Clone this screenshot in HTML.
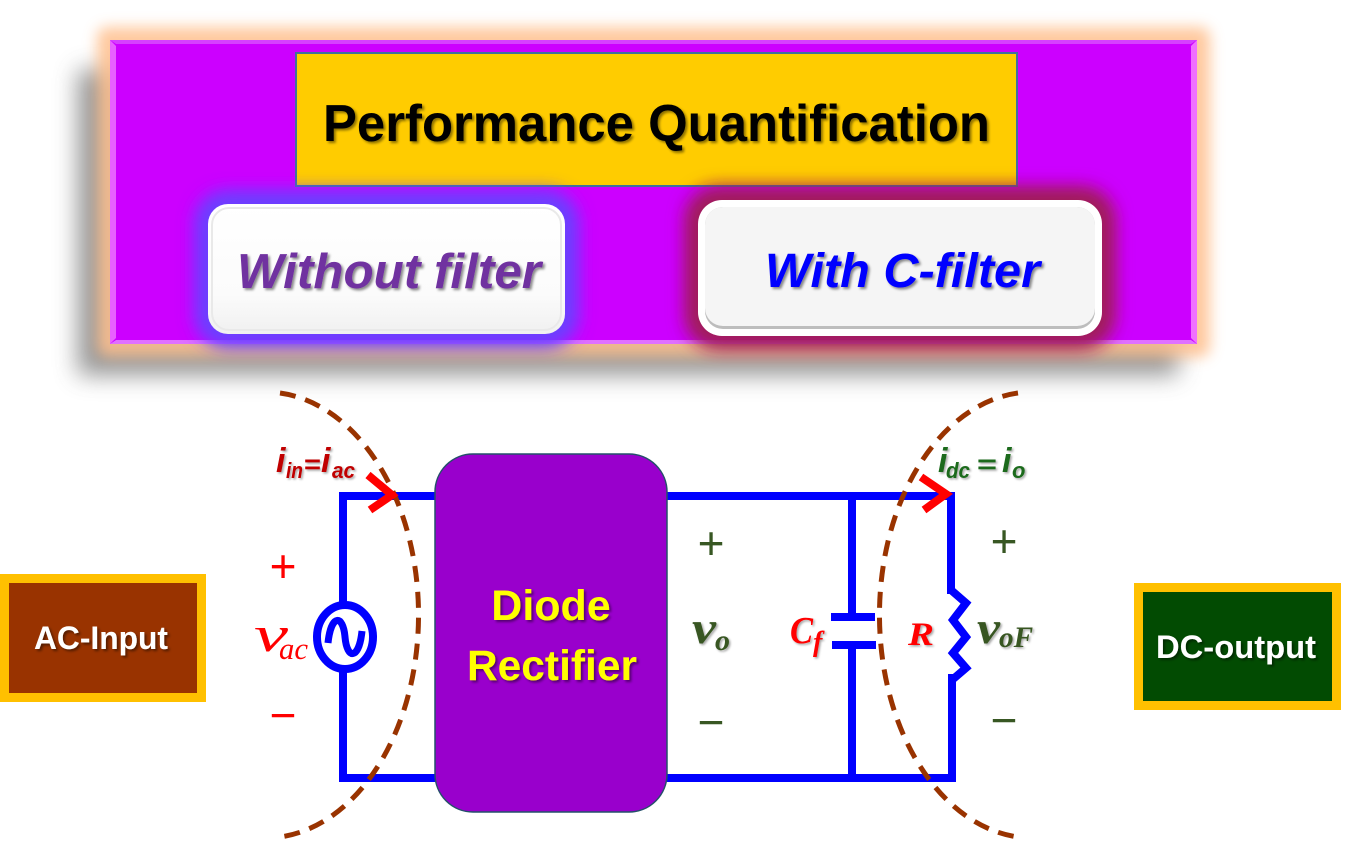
<!DOCTYPE html>
<html><head><meta charset="utf-8"><style>
html,body{margin:0;padding:0;background:#fff;}
svg{display:block;}
</style></head><body>
<svg width="1345" height="843" viewBox="0 0 1345 843" xmlns="http://www.w3.org/2000/svg">
<defs>
<filter id="b12" x="-20%" y="-50%" width="140%" height="200%"><feGaussianBlur stdDeviation="12"/></filter>
<filter id="b7" x="-20%" y="-50%" width="140%" height="200%"><feGaussianBlur stdDeviation="7"/></filter>
<filter id="b9" x="-30%" y="-50%" width="160%" height="200%"><feGaussianBlur stdDeviation="9"/></filter>
<filter id="ts" x="-10%" y="-30%" width="120%" height="160%"><feDropShadow dx="2" dy="2" stdDeviation="1.2" flood-color="#000" flood-opacity="0.45"/></filter>
<filter id="ts2" x="-10%" y="-30%" width="120%" height="160%"><feDropShadow dx="1.5" dy="1.5" stdDeviation="1" flood-color="#000" flood-opacity="0.35"/></filter>
<linearGradient id="g1" x1="0" y1="0" x2="0" y2="1"><stop offset="0" stop-color="#ffffff"/><stop offset="0.7" stop-color="#fbfbfb"/><stop offset="1" stop-color="#f0f0f0"/></linearGradient>
</defs>

<!-- top panel shadow & glow -->
<rect x="78" y="70" width="1100" height="305" fill="#7a7a7a" opacity="0.8" filter="url(#b12)"/>
<rect x="97" y="27" width="1113" height="330" rx="10" fill="#FFC08E" opacity="0.85" filter="url(#b7)"/>
<rect x="110" y="40" width="1087" height="304" fill="#CC00FF"/>
<polygon points="110,40 116,46 116,338 110,344" fill="#E860FF"/>
<polygon points="1197,40 1191,46 1191,338 1197,344" fill="#F070FF"/>
<polygon points="110,40 1197,40 1191,44 116,44" fill="#D640FF"/>
<polygon points="110,344 1197,344 1191,340 116,340" fill="#E070FF"/>

<!-- title box -->
<rect x="296" y="53" width="721" height="133" fill="#FFCC00" stroke="#41719C" stroke-width="2"/>
<text x="323" y="141" font-family="Liberation Sans, sans-serif" font-weight="bold" font-size="52" fill="#000" textLength="667" lengthAdjust="spacingAndGlyphs" filter="url(#ts)">Performance Quantification</text>

<!-- Without filter button -->
<rect x="196" y="192" width="381" height="154" rx="30" fill="#6A40FF" filter="url(#b9)"/>
<rect x="200" y="196" width="373" height="146" rx="28" fill="#6A40FF" opacity="0.7" filter="url(#b9)"/>
<rect x="208" y="204" width="357" height="130" rx="20" fill="url(#g1)"/>
<rect x="212" y="208" width="349" height="122" rx="17" fill="none" stroke="#e9e9e9" stroke-width="2"/>
<text x="237" y="288" font-family="Liberation Sans, sans-serif" font-weight="bold" font-style="italic" font-size="49" fill="#7030A0" textLength="304" lengthAdjust="spacingAndGlyphs" filter="url(#ts)">Without filter</text>

<!-- With C-filter button -->
<rect x="686" y="188" width="428" height="160" rx="32" fill="#A01E5A" filter="url(#b9)"/>
<rect x="690" y="192" width="420" height="152" rx="30" fill="#A01E5A" opacity="0.7" filter="url(#b9)"/>
<rect x="698" y="200" width="404" height="136" rx="24" fill="#ffffff"/>
<rect x="705" y="207" width="390" height="122" rx="18" fill="#bdbdbd"/>
<rect x="705" y="207" width="390" height="119" rx="18" fill="#F5F5F5"/>
<text x="765" y="287" font-family="Liberation Sans, sans-serif" font-weight="bold" font-style="italic" font-size="48" fill="#0000FF" textLength="275" lengthAdjust="spacingAndGlyphs" filter="url(#ts)">With C-filter</text>

<!-- AC input box -->
<rect x="4.5" y="578.5" width="197" height="119" fill="#993300" stroke="#FFC000" stroke-width="9"/>
<text x="34" y="649" font-family="Liberation Sans, sans-serif" font-weight="bold" font-size="32" fill="#fff" textLength="134" lengthAdjust="spacingAndGlyphs" filter="url(#ts)">AC-Input</text>

<!-- DC output box -->
<rect x="1138.5" y="587.5" width="198" height="118" fill="#024B02" stroke="#FFC000" stroke-width="9"/>
<text x="1156" y="658" font-family="Liberation Sans, sans-serif" font-weight="bold" font-size="32" fill="#fff" textLength="160" lengthAdjust="spacingAndGlyphs" filter="url(#ts)">DC-output</text>

<!-- circuit wires -->
<g stroke="#0000FF" stroke-width="8" fill="none" stroke-linecap="square">
<line x1="343" y1="496" x2="436" y2="496"/>
<line x1="343" y1="778" x2="436" y2="778"/>
<line x1="343" y1="496" x2="343" y2="605"/>
<line x1="343" y1="669" x2="343" y2="778"/>
<line x1="666" y1="496" x2="951" y2="496"/>
<line x1="666" y1="778" x2="951" y2="778"/>
<line x1="951" y1="496" x2="951" y2="590"/>
<line x1="952" y1="678" x2="952" y2="778"/>
<line x1="852" y1="496" x2="852" y2="617"/>
<line x1="852" y1="645" x2="852" y2="778"/>
</g>
<g stroke="#0000FF" stroke-width="8" fill="none">
<line x1="831" y1="617" x2="875" y2="617"/>
<line x1="832" y1="645" x2="876" y2="645"/>
<polyline points="951,590 966,603 953,620 966,637 953,653 966,668 952,680" stroke-linejoin="miter"/>
<ellipse cx="345" cy="637" rx="28" ry="32"/>
<path d="M328 643 C331 614, 343 614, 345 637 C347 660, 359 660, 362 631" stroke-width="7"/>
</g>

<!-- diode rectifier -->
<rect x="435" y="454" width="232" height="358" rx="38" fill="#9900CC" stroke="#24506A" stroke-width="1.5"/>
<text x="551" y="620" text-anchor="middle" font-family="Liberation Sans, sans-serif" font-weight="bold" font-size="43" fill="#FFFF00" filter="url(#ts)">Diode</text>
<text x="552" y="680" text-anchor="middle" font-family="Liberation Sans, sans-serif" font-weight="bold" font-size="43" fill="#FFFF00" textLength="170" lengthAdjust="spacingAndGlyphs" filter="url(#ts)">Rectifier</text>

<!-- dashed boundary curves -->
<g stroke="#993300" stroke-width="5" fill="none" stroke-dasharray="16 10">
<path d="M280 393 A153 223 0 0 1 280 837"/>
<path d="M1018 393 A153 223 0 0 0 1018 837"/>
</g>

<!-- current arrows -->
<g stroke="#FF0000" stroke-width="8" fill="none" stroke-linecap="butt" stroke-linejoin="miter">
<polyline points="368,475 392,495 370,510"/>
<polyline points="921,477 946,494 924,510"/>
</g>

<!-- labels left -->
<g font-family="Liberation Sans, sans-serif" font-weight="bold" font-style="italic" fill="#C00000" filter="url(#ts2)">
<text x="276" y="472" font-size="34">i</text>
<text x="286" y="478" font-size="22" textLength="17" lengthAdjust="spacingAndGlyphs">in</text>
<text x="304" y="473" font-size="26" font-style="normal" textLength="17" lengthAdjust="spacingAndGlyphs">=</text>
<text x="321" y="472" font-size="34">i</text>
<text x="332" y="478" font-size="22" textLength="23" lengthAdjust="spacingAndGlyphs">ac</text>
</g>
<g font-family="Liberation Sans, sans-serif" fill="#FF0000">
<text x="283" y="582" font-size="46" text-anchor="middle">+</text>
<text x="283" y="731" font-size="46" text-anchor="middle">−</text>
</g>
<g font-family="Liberation Serif, serif" font-style="italic" fill="#FF0000">
<text x="254" y="651" font-size="50" textLength="34" lengthAdjust="spacingAndGlyphs">v</text>
<text x="279" y="659" font-size="31" textLength="29" lengthAdjust="spacingAndGlyphs">ac</text>
</g>

<!-- labels middle (green) -->
<g font-family="Liberation Sans, sans-serif" fill="#385723">
<text x="711" y="559" font-size="46" text-anchor="middle">+</text>
<text x="711" y="738" font-size="46" text-anchor="middle">−</text>
<text x="1004" y="557" font-size="46" text-anchor="middle">+</text>
<text x="1004" y="736" font-size="46" text-anchor="middle">−</text>
</g>
<g font-family="Liberation Serif, serif" font-style="italic" font-weight="bold" fill="#385723" filter="url(#ts2)">
<text x="692" y="643" font-size="46" textLength="24" lengthAdjust="spacingAndGlyphs">v</text>
<text x="715" y="650" font-size="30" textLength="15" lengthAdjust="spacingAndGlyphs">o</text>
<text x="977" y="643" font-size="46" textLength="23" lengthAdjust="spacingAndGlyphs">v</text>
<text x="999" y="647" font-size="30" textLength="34" lengthAdjust="spacingAndGlyphs">oF</text>
</g>

<!-- C_f and R -->
<g font-family="Liberation Serif, serif" font-style="italic" font-weight="bold" fill="#FF0000" filter="url(#ts2)">
<text x="790" y="643" font-size="38" textLength="23" lengthAdjust="spacingAndGlyphs">C</text>
<text x="813" y="651" font-size="28">f</text>
<text x="908" y="645" font-size="33" textLength="26" lengthAdjust="spacingAndGlyphs">R</text>
</g>

<!-- i_dc = i_o -->
<g font-family="Liberation Sans, sans-serif" font-weight="bold" font-style="italic" fill="#1A6B1A" filter="url(#ts2)">
<text x="938" y="472" font-size="34">i</text>
<text x="946" y="478" font-size="22" textLength="24" lengthAdjust="spacingAndGlyphs">dc</text>
<text x="977" y="473" font-size="26" font-style="normal" textLength="20" lengthAdjust="spacingAndGlyphs">=</text>
<text x="1002" y="472" font-size="34">i</text>
<text x="1012" y="478" font-size="22">o</text>
</g>
</svg>
</body></html>
